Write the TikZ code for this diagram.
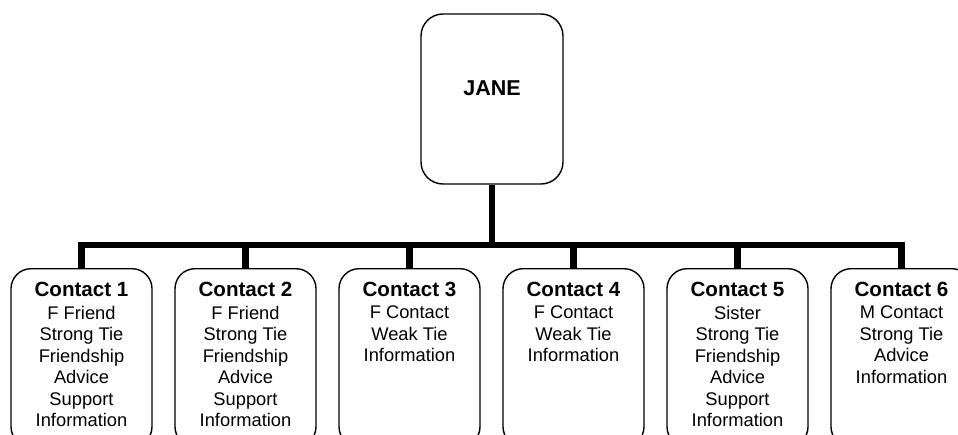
\documentclass[tikz,border=0pt]{standalone}
\usepackage{fontspec}
\setmainfont{Liberation Sans}
\begin{document}
\begin{tikzpicture}[x=1pt,y=-1pt,
  rootbox/.style={draw=black, line width=1.4pt, rounded corners=22pt,
    minimum width=142pt, minimum height=170pt, inner sep=0pt},
  contactbox/.style={draw=black, line width=1.4pt, rounded corners=20pt,
    minimum width=141pt, minimum height=178pt, inner sep=0pt, anchor=north},
  rootname/.style={font=\bfseries\fontsize{21.5}{24}\selectfont, inner sep=0pt, anchor=base},
  contactname/.style={font=\bfseries\fontsize{20.6}{24}\selectfont, inner sep=0pt, anchor=base},
  contactinfo/.style={font=\fontsize{18.3}{21.47}\selectfont, align=center, inner sep=0pt, anchor=north},
  trunk/.style={draw=black, line width=6.6pt, line join=miter}]
  \useasboundingbox (0,0) rectangle (958,434);
  \clip (0,0) rectangle (958,434);
  \fill[white] (0,0) rectangle (958,434);

  % root person
  \node[rootbox] (jane) at (492,99) {};
  \node[rootname] (janelabel) at (492,95.7) {JANE};

  % contacts, evenly spaced along the bottom row
  \foreach \i/\info in {
      1/{F Friend\\Strong Tie\\Friendship\\Advice\\Support\\Information},
      2/{F Friend\\Strong Tie\\Friendship\\Advice\\Support\\Information},
      3/{F Contact\\Weak Tie\\Information},
      4/{F Contact\\Weak Tie\\Information},
      5/{Sister\\Strong Tie\\Friendship\\Advice\\Support\\Information},
      6/{M Contact\\Strong Tie\\Advice\\Information}} {
    \pgfmathsetmacro{\cx}{81.5+164*(\i-1)}
    \node[contactbox] (c\i) at (\cx,268) {};
    \node[contactname] (c\i name) at (\cx,296.3) {Contact \i};
    \node[contactinfo] (c\i info) at (\cx,306) {\info};
  }

  % tree connectors
  \coordinate (hub) at (492,245);
  \draw[trunk] (jane.south) -- (jane.south |- hub);
  \draw[trunk] (c1.north) -- (c1.north |- hub) -- (c6.north |- hub) -- (c6.north);
  \foreach \i in {2,...,5} {
    \draw[trunk] (c\i.north) -- (c\i.north |- hub);
  }
\end{tikzpicture}
\end{document}
